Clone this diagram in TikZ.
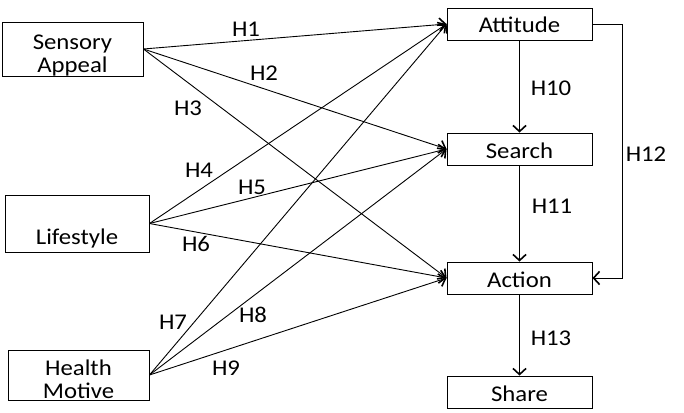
\documentclass[tikz,border=0pt]{standalone}
\usepackage{fontspec}
\setmainfont{Carlito}[FakeStretch=1.1]
\usetikzlibrary{arrows.meta}

\begin{document}
\begin{tikzpicture}[x=1pt, y=-1pt, font=\fontsize{22.5}{23}\selectfont,
  box/.style={draw, line width=0.9pt, align=center, inner sep=0pt},
  stage/.style={box, minimum width=145pt, text height=25pt, text depth=7pt},
  link/.style={-{Straight Barb[length=6pt, width=13pt, line width=1.6pt]}, line width=0.9pt}]
\useasboundingbox (0,0) rectangle (684,412);

\node[box, minimum width=141pt, text height=50pt, text depth=4pt] at (72.5,49) (sens) {Sensory\\Appeal};
\node[box, minimum width=144pt, text height=44pt, text depth=3pt, inner ysep=5pt] at (77,223.5) (life) {Lifestyle};
\node[box, minimum width=141pt, text height=48pt, text depth=2pt] at (78.5,375) (health) {Health\\Motive};

\node[stage] at (519.5,24) (att) {Attitude};
\node[stage] at (519.5,149) (search) {Search};
\node[stage] at (519.5,278) (action) {Action};
\node[stage] at (519.5,392) (share) {Share};

\draw[link] (sens.east) -- (att.west);
\draw[link] (sens.east) -- (search.west);
\draw[link] (sens.east) -- (action.west);
\draw[link] (life.east) -- (att.west);
\draw[link] (life.east) -- (search.west);
\draw[link] (life.east) -- (action.west);
\draw[link] (health.east) -- (att.west);
\draw[link] (health.east) -- (search.west);
\draw[link] (health.east) -- (action.west);

\draw[link] (att) -- (search);
\draw[link] (search) -- (action);
\draw[link] (action) -- (share);
\draw[link] (att.east) -- ++(30,0) |- (action.east);

\node at (246,29) (h1) {H1};
\node at (264,73) (h2) {H2};
\node at (188,108) (h3) {H3};
\node at (199,170) (h4) {H4};
\node at (252,187) (h5) {H5};
\node at (196,244) (h6) {H6};
\node at (173,322) (h7) {H7};
\node at (253,315) (h8) {H8};
\node at (226,368) (h9) {H9};
\node at (551,88) (h10) {H10};
\node at (552,206) (h11) {H11};
\node at (646,154) (h12) {H12};
\node at (551,338) (h13) {H13};
\end{tikzpicture}
\end{document}
